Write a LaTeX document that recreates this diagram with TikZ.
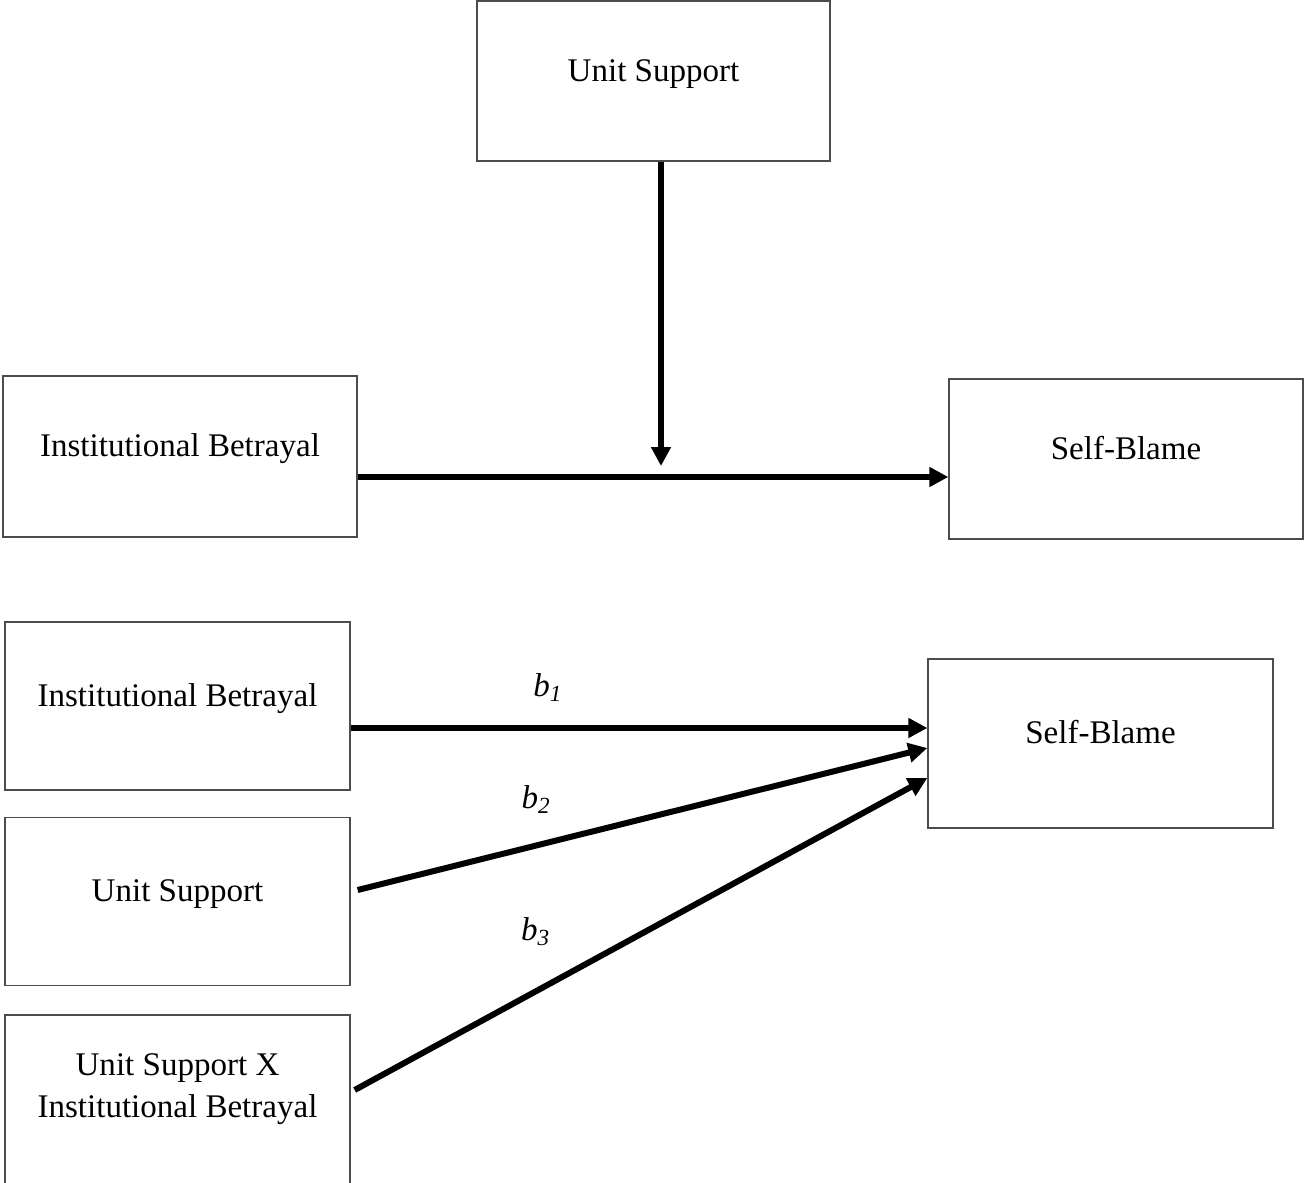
\documentclass[tikz,border=0pt]{standalone}
\usepackage{fontspec}
\setmainfont{Liberation Serif}
\usetikzlibrary{arrows.meta}

\tikzset{
  box/.style={draw=black!70, line width=0.8pt, rectangle, minimum width=6.9cm, minimum height=3.36cm, text height=0.7em, text depth=0.7em},
  arr/.style={-{Triangle[length=0.38cm,width=0.38cm]}, line width=0.12cm},
  coef/.style={font=\fontsize{18.8}{24}\selectfont\itshape}
}

\begin{document}
\begin{tikzpicture}[x=0.02cm, y=-0.02cm, font=\fontsize{18.8}{24}\selectfont]
            \useasboundingbox (0,0) rectangle (1306,1183);

            % moderation
            \node[box, minimum width=7.06cm, minimum height=3.2cm] (usTop) at (653.5,81) {Unit Support};
            \node[box, minimum width=7.08cm, minimum height=3.22cm] (ibTop) at (180,456.5) {Institutional Betrayal};
            \node[box, minimum width=7.08cm, minimum height=3.2cm] (sbTop) at (1126,459) {Self-Blame};
            \coordinate (mod) at (661,466);

            \draw[arr] ([yshift=-0.41cm]ibTop.east) to ([yshift=-0.41cm]ibTop.east -| sbTop.west);
            \draw[arr] (usTop.south -| mod) to (mod);

            % regression
            \node[box] (ibBot) at (177.5,706) {Institutional Betrayal};
            \node[box] (usBot) at (177.5,901.5) {Unit Support};
            \node[box, minimum height=3.5cm, label={[align=center, anchor=north, inner sep=0pt, yshift=-0.77cm]north:{Unit Support X\\Institutional Betrayal}}] (ixBot) at (177.5,1102.5) {};
            \node[box, minimum height=3.38cm] (sbBot) at (1100.5,743.5) {Self-Blame};

            \draw[arr] ([yshift=-0.44cm]ibBot.east) to node[coef, pos=0.342, above=0.36cm] {b\textsubscript{1}} ([yshift=-0.44cm]ibBot.east -| sbBot.west);
            \draw[arr] ([xshift=0.14cm, yshift=0.23cm]usBot.east) to node[coef, pos=0.313, above=0.47cm] {b\textsubscript{2}} ([yshift=-0.09cm]sbBot.west);
            \draw[arr] ([xshift=0.08cm, yshift=0.25cm]ixBot.east) to node[coef, pos=0.316, above=0.74cm] {b\textsubscript{3}} ([yshift=-0.69cm]sbBot.west);
        \end{tikzpicture}
\end{document}
